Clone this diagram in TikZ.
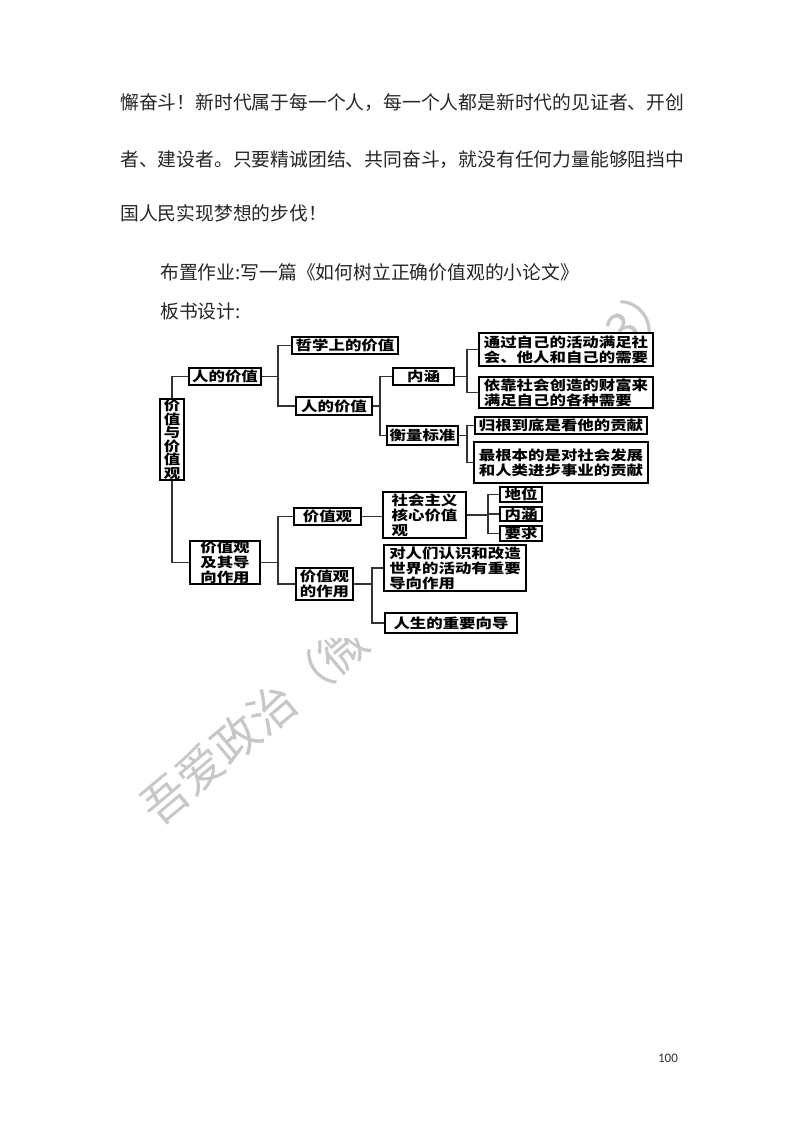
\documentclass[tikz,border=0pt]{standalone}
\usepackage{fontspec}
\setmainfont{Noto Sans CJK SC}
\newfontfamily\dgfont[FakeStretch=1.22]{Noto Sans CJK SC}
\newfontfamily\pgfont{Carlito}

\begin{document}
\begin{tikzpicture}[x=0.75pt,y=-0.75pt,
  para/.style={anchor=west,inner sep=0pt,text=black!85,font=\fontsize{14.1pt}{14.1pt}\selectfont},
  wmark/.style={text=black!22,inner sep=0pt,font=\fontsize{35pt}{35pt}\selectfont},
  box/.style 2 args={draw,line width=1.1pt,inner sep=0pt,align=left,minimum width=#1*0.75pt,minimum height=#2*0.75pt,font=\dgfont\bfseries\fontsize{10.1pt}{11.2pt}\selectfont},
  link/.style={line width=0.8pt,black!80}]
\fill[white] (0,0) rectangle (800,1132);
\useasboundingbox (0,0) rectangle (800,1132);

\node[para] (l1) at (120,103) {懈奋斗！新时代属于每一个人，每一个人都是新时代的见证者、开创};
\node[para] (l2) at (120,160) {者、建设者。只要精诚团结、共同奋斗，就没有任何力量能够阻挡中};
\node[para] (l3) at (120,213) {国人民实现梦想的步伐！};
\node[para] (hw) at (160,272) {布置作业:写一篇《如何树立正确价值观的小论文》};
\node[para] (bs) at (160,311) {板书设计:};

\node[wmark,rotate=40] (wm1) at (254,724) {吾爱政治（微};
\node[wmark,rotate=42] (wm2) at (640,313) {3）};
\fill[white] (155,333) rectangle (662,638);

\node[box={24}{81},align=center,font=\dgfont\bfseries\fontsize{10.1pt}{10.1pt}\selectfont] (root) at (172,439.5) {价\\值\\与\\价\\值\\观};
\node[box={72}{17}] (rv) at (225,376.5) {人的价值};
\node[box={70}{43}] (gz) at (225,562.5) {价值观\\及其导\\向作用};
\node[box={106}{17}] (zx) at (345,345.5) {哲学上的价值};
\node[box={76}{18}] (rv2) at (334,406) {人的价值};
\node[box={61}{17}] (nh) at (423.5,376.5) {内涵};
\node[box={71}{19}] (hl) at (422.5,435.5) {衡量标准};
\node[box={174}{33}] (t1) at (566,349.5) {通过自己的活动满足社\\会、他人和自己的需要};
\node[box={174}{31}] (t2) at (566,392.5) {依靠社会创造的财富来\\满足自己的各种需要};
\node[box={172}{17}] (g1) at (561,425.5) {归根到底是看他的贡献};
\node[box={174}{41}] (g2) at (561,462.5) {最根本的是对社会发展\\和人类进步事业的贡献};
\node[box={67}{17}] (jz) at (327.5,516.5) {价值观};
\node[box={57}{32}] (zy) at (324.5,584) {价值观\\的作用};
\node[box={83}{46}] (sh) at (424.5,515) {社会主义\\核心价值\\观};
\node[box={42}{15}] (dw) at (521,494.5) {地位};
\node[box={42}{14}] (nh2) at (521,514) {内涵};
\node[box={42}{15}] (yq) at (521,533.5) {要求};
\node[box={142}{46}] (d1) at (455,568) {对人们认识和改造\\世界的活动有重要\\导向作用};
\node[box={132}{20}] (d2) at (451,623) {人生的重要向导};

\coordinate (s1) at (278,376.5);
\coordinate (s2) at (380,406);
\coordinate (s3) at (467,376.5);
\coordinate (s4) at (467,435.5);
\coordinate (s5) at (278,562.5);
\coordinate (s6) at (488,515);
\coordinate (s7) at (372,584);
\draw[link] (root.north) |- (rv.west);
\draw[link] (root.south) |- (gz.west);
\draw[link] (rv.east) -- (s1) |- (zx.west);
\draw[link] (s1) |- (rv2.west);
\draw[link] (rv2.east) -- (s2) |- (nh.west);
\draw[link] (s2) |- (hl.west);
\draw[link] (nh.east) -- (s3) |- (t1.west);
\draw[link] (s3) |- (t2.west);
\draw[link] (hl.east) -- (s4) |- (g1.west);
\draw[link] (s4) |- (g2.west);
\draw[link] (gz.east) -- (s5) |- (jz.west);
\draw[link] (s5) |- (zy.west);
\draw[link] (jz.east) -- (jz.east -| sh.west);
\draw[link] (sh.east) -- (s6) |- (dw.west);
\draw[link] (s6) |- (nh2.west);
\draw[link] (s6) |- (yq.west);
\draw[link] (zy.east) -- (s7) |- (d1.west);
\draw[link] (s7) |- (d2.west);

\node[inner sep=0pt,text=black!80,font=\pgfont\fontsize{9.75pt}{9.75pt}\selectfont] (pg) at (668,1058) {100};
\end{tikzpicture}
\end{document}
